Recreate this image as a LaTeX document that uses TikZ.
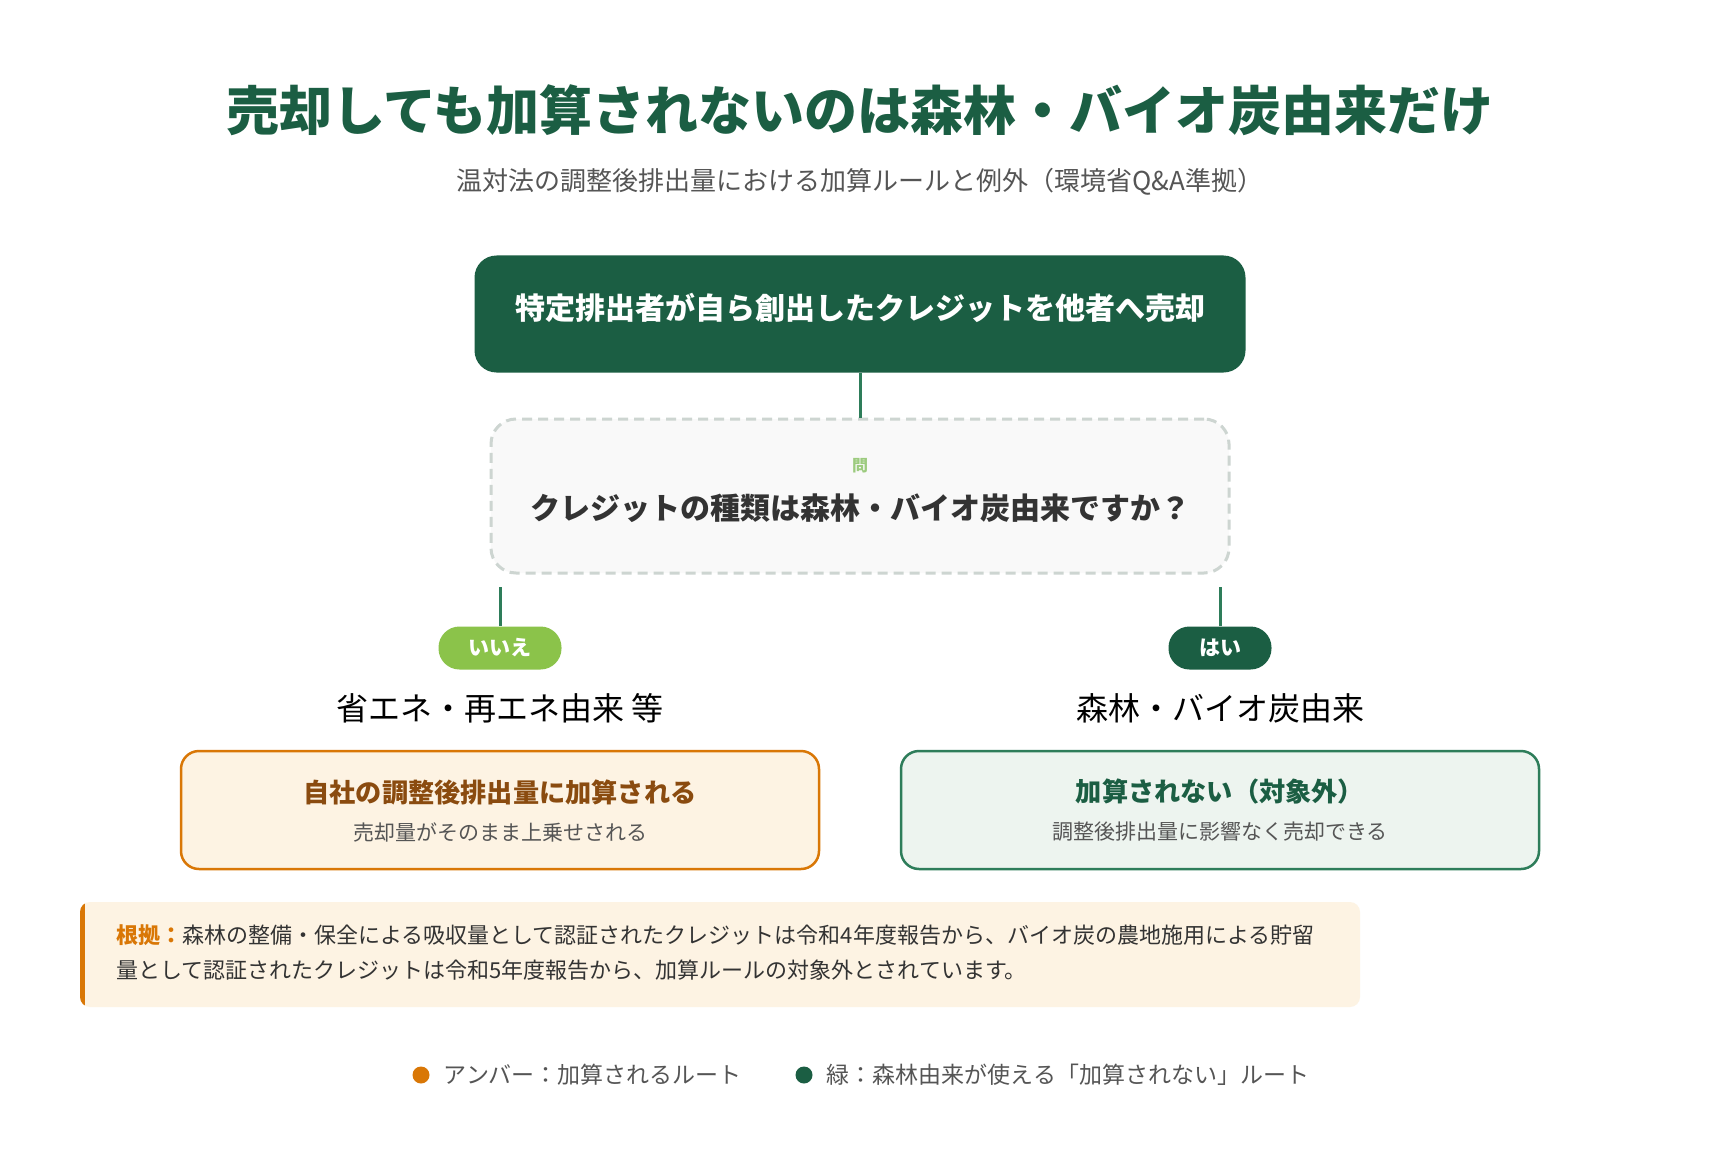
\documentclass[tikz,border=0pt]{standalone}
\usepackage{fontspec}
\setmainfont{Noto Sans CJK JP}
\usetikzlibrary{positioning, calc}

\definecolor{forest}{HTML}{1B5E43}
\definecolor{linkgreen}{HTML}{2E7D5A}
\definecolor{leaf}{HTML}{8BC34A}
\definecolor{amber}{HTML}{D97706}
\definecolor{amberfill}{HTML}{FDF3E3}
\definecolor{amberink}{HTML}{8A4B0F}
\definecolor{mintfill}{HTML}{EDF4EF}
\definecolor{ink}{HTML}{333333}
\definecolor{muted}{HTML}{555555}
\definecolor{dashgray}{HTML}{CDD5D1}
\definecolor{qfill}{HTML}{F9F9F9}
\definecolor{qmark}{HTML}{9CCB7E}

\newcommand{\fsz}[1]{\fontsize{#1}{#1}\selectfont}

\tikzset{
    link/.style={draw=linkgreen, line width=3pt},
    pill/.style={rounded corners=21pt, minimum height=43pt, text=white, font=\bfseries\fsz{21}, inner sep=0pt},
    amberbox/.style={draw=amber, fill=amberfill},
    greenbox/.style={draw=linkgreen, fill=mintfill},
    amberhead/.style={text=amberink},
    greenhead/.style={text=forest},
    keydot/.style={circle, minimum size=17pt, inner sep=0pt},
    keytext/.style={inner sep=0pt, text=muted, font=\fsz{23}},
}

\newcommand{\outcome}[5]{
    \node[#5box, line width=2.5pt, rounded corners=18pt, minimum width=638pt, minimum height=118pt] (#1) at (#2) {};
    \node[#5head, font=\bfseries\fsz{26.2}] (#1-h) at ($(#1) + (0, -18)$) {#3};
    \node[text=muted, font=\fsz{21}] (#1-s) at ($(#1) + (0, 22)$) {#4};
}

\begin{document}
\begin{tikzpicture}[x=1pt, y=-1pt]
    \useasboundingbox[fill=white] (0,0) rectangle (1720,1150);

    \node[text=forest, font=\bfseries\fsz{53}] (title) at (860,110) {売却しても加算されないのは森林・バイオ炭由来だけ};
    \node[text=muted, font=\fsz{26}] (subtitle) at (860,182) {温対法の調整後排出量における加算ルールと例外（環境省Q\&A準拠）};

    % start and question
    \node[fill=forest, rounded corners=22pt, minimum width=771pt, minimum height=117pt] (sell) at (860,314) {};
    \node[text=white, font=\bfseries\fsz{30}] (sell-t) at (860,308) {特定排出者が自ら創出したクレジットを他者へ売却};
    \node[draw=dashgray, dash pattern=on 10pt off 6pt, line width=3pt, fill=qfill, rounded corners=25pt, minimum width=738pt, minimum height=154pt] (q) at (860,496) {};
    \node[text=qmark, font=\bfseries\fsz{16}] (q-tag) at (860,466) {問};
    \node[text=ink, font=\bfseries\fsz{30}] (q-text) at (860,508) {クレジットの種類は森林・バイオ炭由来ですか？};
    \draw[link] (sell) -- (q);

    % branches
    \coordinate (no-top) at (500,587);
    \coordinate (yes-top) at (1220,587);
    \node[pill, fill=leaf, minimum width=123pt] (no) at (500,648) {いいえ};
    \node[pill, fill=forest, minimum width=103pt] (yes) at (1220,648) {はい};
    \draw[link] (no-top) -- (no);
    \draw[link] (yes-top) -- (yes);
    \node[font=\fsz{32}] (no-label) at (500,708) {省エネ・再エネ由来 等};
    \node[font=\fsz{32}] (yes-label) at (1220,708) {森林・バイオ炭由来};

    \outcome{no-out}{500,810}{自社の調整後排出量に加算される}{売却量がそのまま上乗せされる}{amber}
    \outcome{yes-out}{1220,810}{加算されない（対象外）}{調整後排出量に影響なく売却できる}{green}

    % basis note
    \fill[amberfill, rounded corners=10pt] (80,902) rectangle (1360,1007);
    \begin{scope}
        \clip[rounded corners=10pt] (80,902) rectangle (1360,1007);
        \fill[amber] (80,902) rectangle (85,1007);
    \end{scope}
    \node[anchor=west, align=left, inner sep=0pt, text=ink, font=\fontsize{22}{35}\selectfont] (basis) at (116,953) {{\bfseries\color{amber}根拠：}森林の整備・保全による吸収量として認証されたクレジットは令和4年度報告から、バイオ炭の農地施用による貯留\\量として認証されたクレジットは令和5年度報告から、加算ルールの対象外とされています。};

    % legend
    \node[keydot, fill=amber] (key-amber) at (421,1075) {};
    \node[keytext, right=14pt of key-amber] (key-amber-t) {アンバー：加算されるルート};
    \node[keydot, fill=forest] (key-green) at (804,1075) {};
    \node[keytext, right=14pt of key-green] (key-green-t) {緑：森林由来が使える「加算されない」ルート};
\end{tikzpicture}
\end{document}
